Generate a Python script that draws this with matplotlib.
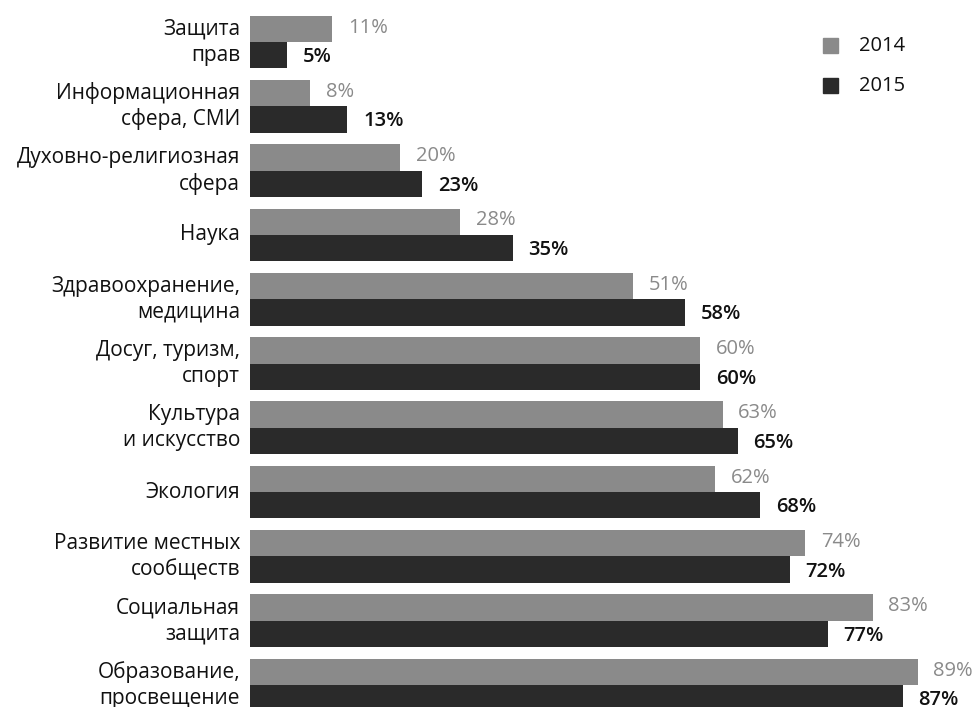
import matplotlib
matplotlib.use("Agg")
import matplotlib.pyplot as plt
from matplotlib.patches import Rectangle

categories = ["Защита\nправ", "Информационная\nсфера, СМИ", "Духовно-религиозная\nсфера",
              "Наука", "Здравоохранение,\nмедицина", "Досуг, туризм,\nспорт",
              "Культура\nи искусство", "Экология", "Развитие местных\nсообществ",
              "Социальная\nзащита", "Образование,\nпросвещение"]
v2014 = [11, 8, 20, 28, 51, 60, 63, 62, 74, 83, 89]
v2015 = [5, 13, 23, 35, 58, 60, 65, 68, 72, 77, 87]
years = ["2014", "2015"]

c14 = "#8a8a8a"
c15 = "#2a2a2a"
font = "Open Sans"
fs = 15

W, H = 979, 707
fig = plt.figure(figsize=(W/100, H/100), dpi=100)
ax = fig.add_axes([250/W, 0, 1 - 250/W, 1])
ax.set_xlim(0, (W - 250) / 7.5)
pitch = 64.3
ax.set_ylim(10 + (H - 685) / pitch, -42 / pitch)
ax.axis("off")

bh = 0.41
ys = list(range(len(categories)))
ax.barh([y - bh/2 for y in ys], v2014, height=bh, color=c14)
ax.barh([y + bh/2 for y in ys], v2015, height=bh, color=c15)

for y, a, b, cat in zip(ys, v2014, v2015, categories):
    ax.text(a + 2.1, y - bh/2 - 0.02, f"{a}%", color=c14, fontsize=fs - 0.5, family=font,
            va="center", ha="left")
    ax.text(b + 2.1, y + bh/2 + 0.03, f"{b}%", color="#111111", fontsize=fs - 0.5,
            family=font, fontweight="semibold", va="center", ha="left")
    lines = cat.split("\n")
    if len(lines) == 2:
        ax.text(-1.3, y - bh/2, lines[0], ha="right", va="center", fontsize=fs,
                family=font, color="#111111", clip_on=False)
        ax.text(-1.3, y + bh/2, lines[1], ha="right", va="center", fontsize=fs,
                family=font, color="#111111", clip_on=False)
    else:
        ax.text(-1.3, y, lines[0], ha="right", va="center", fontsize=fs,
                family=font, color="#111111", clip_on=False)

# legend
for i, (yr, c) in enumerate(zip(years, [c14, c15])):
    yp = 46 + i * 40
    fig.patches.append(Rectangle((823/W, 1 - (yp + 7)/H), 15/W, 15/H,
                                 transform=fig.transFigure, color=c, figure=fig))
    fig.text(859/W, 1 - yp/H, yr, ha="left", va="center", fontsize=fs - 0.5,
             family=font, color="#111111")

fig.savefig("out.png", dpi=100, facecolor="white")
